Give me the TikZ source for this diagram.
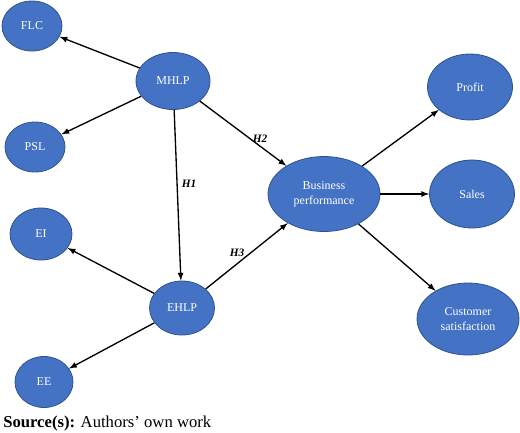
\documentclass[tikz,border=0pt]{standalone}
\usepackage{fontspec}
\setmainfont{Liberation Serif}
\usetikzlibrary{shapes.geometric}
\definecolor{blockfill}{HTML}{4472C4}
\definecolor{blockdraw}{HTML}{2F528F}
\begin{document}
\begin{tikzpicture}[
    x = 0.75pt,
    y = -0.75pt,
    latent/.style = {
      shape = ellipse,
      fill = blockfill,
      draw = blockdraw,
      line width = 0.6pt,
      text = white,
      inner sep = 0pt,
      align = center,
      font = \fontsize{9}{11}\selectfont
    },
    hyp/.style = {
      font = \fontsize{8.5}{10}\selectfont\bfseries\itshape
    },
    link/.style = {
      ->,
      >= latex,
      line width = 1pt
    }
  ]
    \useasboundingbox (0, 0) rectangle (520, 432);

    \node[latent, minimum width = 45pt, minimum height = 37.5pt] (flc) at (32, 26) {FLC};
    \node[latent, minimum width = 55.5pt, minimum height = 42.75pt] (mhlp) at (173, 81) {MHLP};
    \node[latent, minimum width = 45pt, minimum height = 37.5pt] (psl) at (35, 147) {PSL};

    \node[latent, minimum width = 46.5pt, minimum height = 39pt] (ei) at (41, 234) {EI};
    \node[latent, minimum width = 48.75pt, minimum height = 40.5pt] (ehlp) at (182, 308) {EHLP};
    \node[latent, minimum width = 43.5pt, minimum height = 38.25pt] (ee) at (44, 382) {EE};

    \node[latent, minimum width = 84pt, minimum height = 56.25pt] (bp) at (324, 194) {Business\\performance};

    \node[latent, minimum width = 63.75pt, minimum height = 49.5pt] (profit) at (470, 87) {Profit};
    \node[latent, minimum width = 63.75pt, minimum height = 51pt] (sales) at (472, 194) {Sales};
    \node[latent, minimum width = 76.5pt, minimum height = 54pt] (cs) at (468, 319) {Customer\\satisfaction};

    \foreach \dst in {flc, psl} {
      \draw[link] (mhlp) -- (\dst);
    }
    \foreach \dst in {ei, ee} {
      \draw[link] (ehlp) -- (\dst);
    }
    \foreach \dst in {profit, sales, cs} {
      \draw[link] (bp) -- (\dst);
    }

    \draw[link] (mhlp) -- (ehlp);
    \draw[link] (mhlp) -- (bp);
    \draw[link] (ehlp) -- (bp);

    \node[hyp] (h1) at (189, 184) {H1};
    \node[hyp] (h2) at (260, 139) {H2};
    \node[hyp] (h3) at (237, 253) {H3};

    \node[anchor = base west, inner sep = 0pt, font = \fontsize{12.5}{15}\selectfont] (source) at (3, 427) {\textbf{Source(s):} Authors’ own work};
  \end{tikzpicture}
\end{document}
